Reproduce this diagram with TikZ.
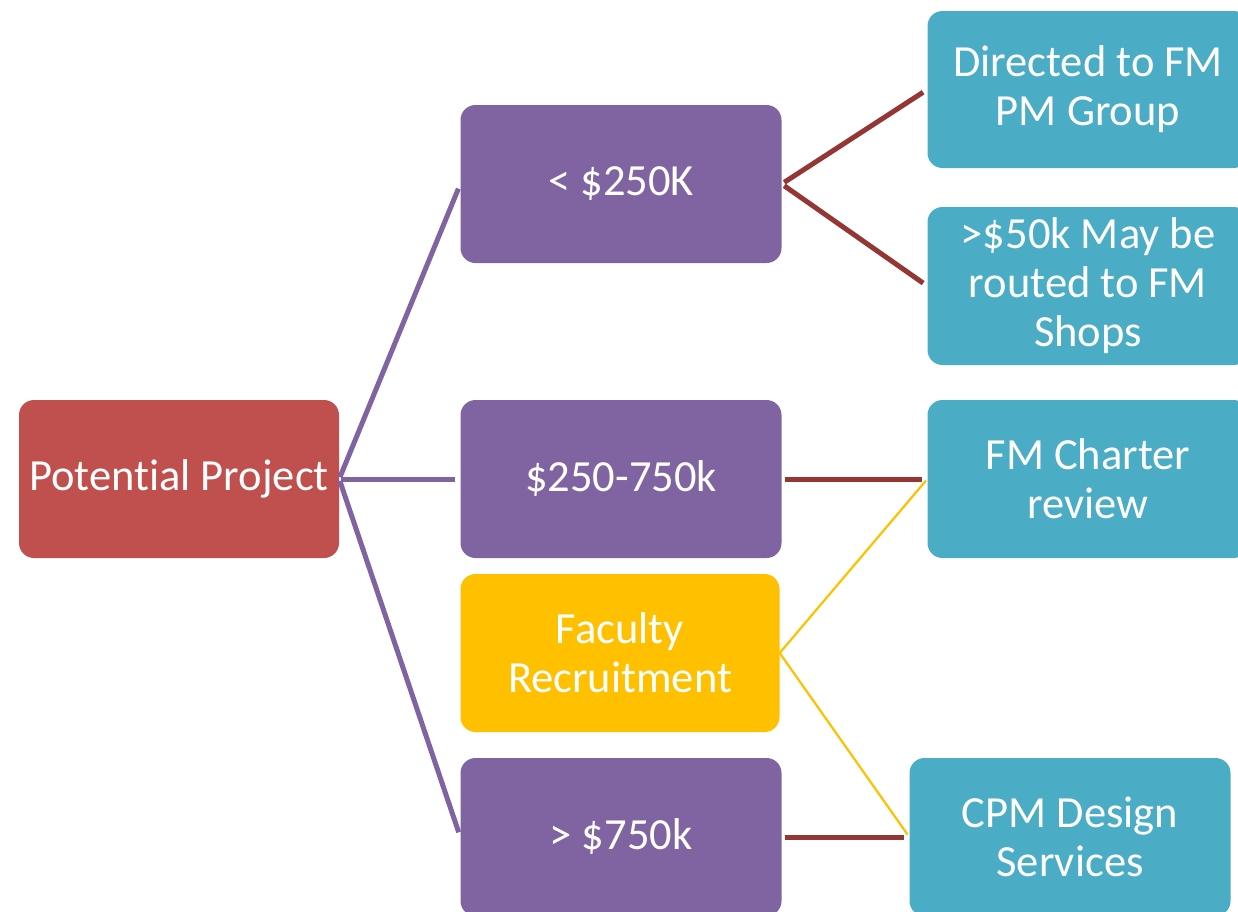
\documentclass[tikz,border=0pt]{standalone}
\usepackage{fontspec}
\setmainfont[RawFeature={-liga;-clig;-dlig;-calt}]{Carlito}
\definecolor{cred}{HTML}{C0504D}
\definecolor{cpurple}{HTML}{8064A2}
\definecolor{cyellow}{HTML}{FFC000}
\definecolor{ccyan}{HTML}{4BACC6}
\definecolor{cline}{HTML}{943634}
\begin{document}
\begin{tikzpicture}[x=1pt,y=-1pt,
  box/.style={rectangle, rounded corners=15pt, minimum width=321pt, minimum height=158pt,
    inner sep=0pt, text=white, align=center, font=\fontsize{44.5}{49}\selectfont},
  redbox/.style={box, fill=cred},
  purplebox/.style={box, fill=cpurple},
  yellowbox/.style={box, fill=cyellow},
  cyanbox/.style={box, fill=ccyan},
  purpleline/.style={draw=cpurple, line width=5pt, shorten >=5pt, shorten <=2pt},
  redline/.style={draw=cline, line width=5pt, shorten >=5pt, shorten <=3pt},
  yellowline/.style={draw=cyellow, line width=2.2pt, shorten >=3pt, shorten <=2pt}]
\useasboundingbox (0,0) rectangle (1238,911);
\clip (0,0) rectangle (1238,911);
\node[redbox, minimum width=320pt] (pp) at (179,479) {Potential Project};
\node[purplebox] (a) at (621,184) {\raisebox{-2pt}{< \$250K}};
\node[purplebox] (b) at (621,479) {\$250-750k};
\node[yellowbox, minimum width=319pt] (f) at (620,653) {Faculty\\Recruitment};
\node[purplebox] (c) at (621,837) {> \$750k};
\node[cyanbox, minimum height=157pt] (d1) at (1088,89.5) {Directed to FM\\PM Group};
\node[cyanbox] (d2) at (1088,286) {>\$50k May be\\routed to FM\\Shops};
\node[cyanbox] (fm) at (1088,479) {FM Charter\\review};
\node[cyanbox] (cpm) at (1070,837) {CPM Design\\Services};
\draw[purpleline] (pp.east) -- (a.west);
\draw[purpleline] (pp.east) -- (b.west);
\draw[purpleline] (pp.east) -- (c.west);
\draw[redline] (a.east) -- (d1.west);
\draw[redline] (a.east) -- (d2.west);
\draw[redline] (b.east) -- (fm.west);
\draw[redline] (c.east) -- (cpm.west);
\draw[yellowline] (fm.west) -- (f.east) -- (cpm.west);
\end{tikzpicture}
\end{document}
